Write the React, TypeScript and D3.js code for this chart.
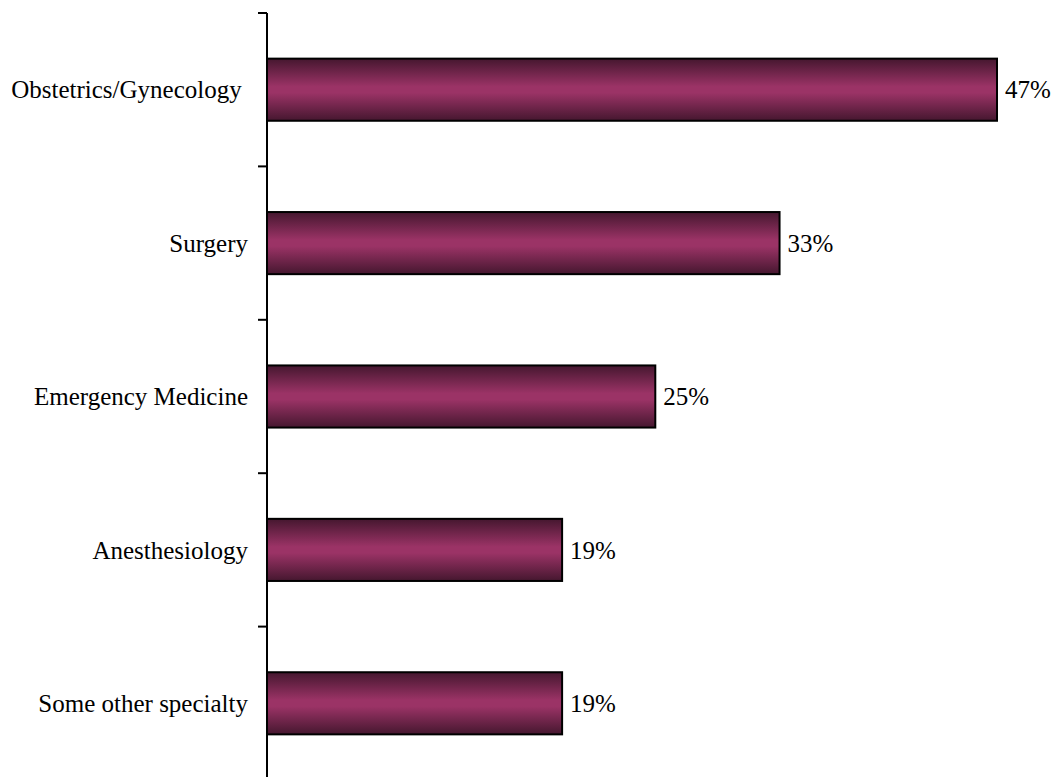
import React from "react";
import * as d3 from "d3";

const categories = ["Obstetrics/Gynecology ", "Surgery", "Emergency Medicine", "Anesthesiology", "Some other specialty"];
const values = [47, 33, 25, 19, 19];
const valueLabels = ["47%", "33%", "25%", "19%", "19%"];

const W = 1055, H = 777;
const axisX = 267;
const top = 13, bottom = 780;
const labelRight = 248;

export default function App() {
  const x = d3.scaleLinear().domain([0, 47]).range([axisX, 997]);
  const y = d3.scaleBand<string>().domain(categories).range([top, bottom]).paddingInner(0.595).paddingOuter(0.2975);
  const ticks = d3.range(categories.length + 1).map(i => top + i * y.step());

  return (
    <svg width={W} height={H} style={{ position: "absolute", left: 0, top: 0, background: "#fff" }}>
      <defs>
        <linearGradient id="barGrad" x1="0" y1="0" x2="0" y2="1">
          <stop offset="0" stopColor="#45172f" />
          <stop offset="0.45" stopColor="#9b3366" />
          <stop offset="0.55" stopColor="#9b3366" />
          <stop offset="1" stopColor="#45172f" />
        </linearGradient>
      </defs>
      {categories.map((c, i) => (
        <g key={c}>
          <rect x={x(0)} y={y(c)!} width={x(values[i]) - x(0)} height={y.bandwidth()}
            fill="url(#barGrad)" stroke="#000" strokeWidth={2} />
          <text x={x(values[i]) + 8} y={y(c)! + y.bandwidth() / 2} dy="0.35em" textAnchor="start"
            fontFamily="'Liberation Serif', 'Times New Roman', serif" fontSize={25} fill="#000">{valueLabels[i]}</text>
          <text x={labelRight} y={y(c)! + y.bandwidth() / 2} dy="0.35em" textAnchor="end"
            style={{ whiteSpace: "pre" }}
            fontFamily="'Liberation Serif', 'Times New Roman', serif" fontSize={25} fill="#000">{c}</text>
        </g>
      ))}
      <line x1={axisX} x2={axisX} y1={top} y2={bottom} stroke="#000" strokeWidth={2} />
      {ticks.map((t, i) => (
        <line key={i} x1={axisX - 9} x2={axisX} y1={t} y2={t} stroke="#000" strokeWidth={2} />
      ))}
    </svg>
  );
}
